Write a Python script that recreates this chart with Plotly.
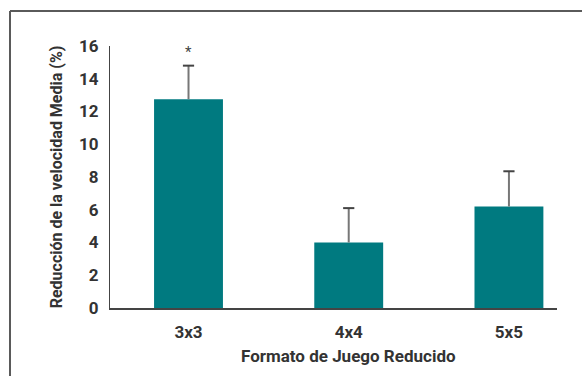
import plotly.graph_objects as go

# Reducción de la velocidad media por formato de juego reducido
formatos = ["3x3", "4x4", "5x5"]
reduccion = [12.75, 4.0, 6.2]
desviacion = [2.05, 2.1, 2.15]
y_ticks = [0, 2, 4, 6, 8, 10, 12, 14, 16]

W, H = 582, 376
ML, MR, MT, MB = 110, 25, 46, 68
pw, ph = W - ML - MR, H - MT - MB

TEAL = "#007a80"
ERR = "#777777"
FONT = "Roboto, Arial, sans-serif"

fig = go.Figure(
    go.Bar(
        x=formatos,
        y=reduccion,
        width=0.43,
        marker=dict(color=TEAL, line=dict(width=0)),
        hoverinfo="skip",
    )
)

# upper-only error bars: stems from bar top to mean + SD, then a cap
stem_x, stem_y = [], []
for f, m, s in zip(formatos, reduccion, desviacion):
    stem_x += [f, f, None]
    stem_y += [m, m + s, None]
fig.add_trace(go.Scatter(
    x=stem_x, y=stem_y, mode="lines",
    line=dict(color=ERR, width=2), hoverinfo="skip",
))
fig.add_trace(go.Scatter(
    x=formatos, y=[m + s for m, s in zip(reduccion, desviacion)],
    mode="markers",
    marker=dict(symbol="line-ew", size=8, line=dict(color="#444", width=2)),
    hoverinfo="skip",
))

# significance marker over the first format
fig.add_annotation(
    x=formatos[0], y=reduccion[0] + desviacion[0], xref="x", yref="y",
    text="*", showarrow=False, yshift=14,
    font=dict(family=FONT, size=15, color="#444"),
)

# x-axis title centred under the middle category
fig.add_annotation(
    x=formatos[1], y=0, xref="x", yref="paper",
    text="<b>Formato de Juego Reducido</b>", showarrow=False,
    yanchor="middle", yshift=-48,
    font=dict(family=FONT, size=17, color="#333"),
)

# frame: left and top edges
fx0 = (10 - ML) / pw
fy1 = (H - MB - 11) / ph
fig.add_shape(type="line", xref="paper", yref="paper",
              x0=fx0, x1=fx0, y0=-MB / ph - 0.05, y1=fy1,
              line=dict(color="#5a5a5a", width=2))
fig.add_shape(type="line", xref="paper", yref="paper",
              x0=fx0, x1=(W - ML) / pw + 0.05, y0=fy1, y1=fy1,
              line=dict(color="#5a5a5a", width=2))

fig.update_layout(
    width=W, height=H,
    margin=dict(l=ML, r=MR, t=MT, b=MB),
    paper_bgcolor="white", plot_bgcolor="white",
    showlegend=False,
    font=dict(family=FONT, color="#333"),
    xaxis=dict(
        type="category",
        range=[-0.49, 2.30],
        showline=True, linecolor="#444", linewidth=1.5,
        showgrid=False, zeroline=False,
        ticks="", ticklabelstandoff=8,
        tickfont=dict(family=FONT, size=17, color="#333", weight="bold"),
    ),
    yaxis=dict(
        range=[0, 16],
        tickvals=y_ticks,
        showline=True, linecolor="#444", linewidth=1,
        showgrid=False, zeroline=False,
        ticks="", ticklabelstandoff=7,
        tickfont=dict(family=FONT, size=17, color="#333", weight="bold"),
        title=dict(
            text="<b>Reducción de la velocidad Media (%)</b>",
            font=dict(family=FONT, size=16, color="#333"),
            standoff=12,
        ),
    ),
)

fig.write_html("out.html")
